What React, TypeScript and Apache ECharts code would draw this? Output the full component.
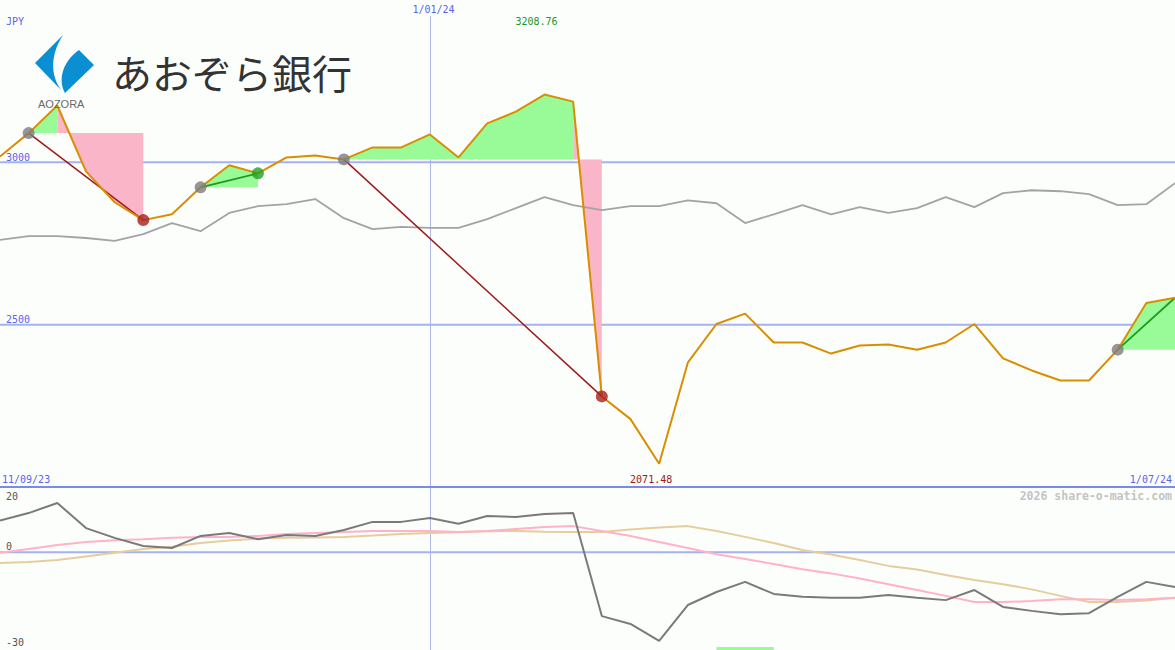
import React, { useEffect, useRef } from "react";
import * as echarts from "echarts";

// ---------- data ----------
const currency = "JPY";
const dates = [
  "18/09/23", "25/09/23", "2/10/23", "9/10/23", "16/10/23", "23/10/23", "30/10/23",
  "6/11/23", "13/11/23", "20/11/23", "27/11/23", "4/12/23", "11/12/23", "18/12/23",
  "25/12/23", "1/01/24", "8/01/24", "15/01/24", "22/01/24", "29/01/24", "5/02/24",
  "12/02/24", "19/02/24", "26/02/24", "4/03/24", "11/03/24", "18/03/24", "25/03/24",
  "1/04/24", "8/04/24", "15/04/24", "22/04/24", "29/04/24", "6/05/24", "13/05/24",
  "20/05/24", "27/05/24", "3/06/24", "10/06/24", "17/06/24", "24/06/24", "1/07/24",
];
const startLabel = "11/09/23";
const markedDate = "1/01/24";
const watermark = "2026 share-o-matic.com";
const bankName = "あおぞら銀行";
const bankLatin = "AOZORA";

const price = [
  3018, 3090, 3175, 2972, 2877, 2822, 2840, 2923, 2991, 2966,
  3015, 3021, 3009, 3046, 3046, 3086, 3015, 3120, 3156, 3208.76,
  3187, 2279, 2209, 2071.48, 2383, 2502, 2534, 2445, 2445, 2411,
  2436, 2439, 2423, 2445, 2502, 2396, 2359, 2328, 2328, 2423,
  2567, 2583,
];
const benchmark = [
  2761, 2773, 2773, 2767, 2758, 2779, 2813, 2788, 2844, 2865,
  2871, 2887, 2828, 2794, 2801, 2798, 2798, 2825, 2859, 2893,
  2868, 2853, 2865, 2865, 2883, 2874, 2813, 2840, 2868, 2840,
  2862, 2844, 2859, 2893, 2862, 2905, 2914, 2911, 2902, 2868,
  2871, 2936,
];
const momentum = [
  9.7, 12.0, 15.1, 7.4, 4.4, 1.9, 1.3, 5.0, 5.9, 4.0,
  5.3, 5.0, 6.8, 9.3, 9.3, 10.5, 8.7, 11.1, 10.8, 11.7,
  12.0, -19.6, -22.0, -27.2, -16.2, -12.2, -9.1, -12.8, -13.7, -14.0,
  -14.0, -13.1, -14.0, -14.7, -11.6, -16.8, -18.0, -19.0, -18.7, -13.7,
  -9.1, -10.7,
];
const momFast = [
  -0.2, 1.0, 2.2, 3.1, 3.7, 4.0, 4.4, 4.7, 4.7, 5.0,
  5.6, 5.9, 6.2, 6.5, 6.5, 6.5, 6.2, 6.5, 7.1, 7.7,
  8.0, 6.5, 5.0, 3.1, 1.3, -0.6, -2.1, -3.6, -5.2, -6.5,
  -8.1, -9.8, -11.6, -13.4, -15.3, -15.3, -15.0, -14.4, -14.4, -14.7,
  -14.4, -14.0,
];
const momSlow = [
  -3.3, -3.0, -2.4, -1.3, -0.2, 1.0, 1.7, 2.8, 3.6, 4.2,
  4.4, 4.5, 4.7, 5.1, 5.6, 5.9, 6.1, 6.4, 6.5, 6.3,
  6.2, 6.2, 7.0, 7.6, 8.0, 6.5, 4.7, 2.8, 0.7, -0.7,
  -2.4, -4.2, -5.3, -7.0, -8.5, -9.8, -11.4, -13.4, -15.3, -15.3,
  -14.8, -14.0,
];
const tradeEntries = [1, 7, 12, 39];
const tradeExits = [5, 9, 21, 41];
const tradeOpen = [false, false, false, true];
const priceLevels = [2500, 3000];
const priceRange = [2000, 3500];
const momLevels = [20, 0, -30];
const momGridLevels = [0];
const momRange = [-30, 20];
const bandIndices = [25, 27];
const bandValues = [-29.1, -30];

// ---------- styles ----------
const BG = "#fcfefc";
const GRID_BLUE = "#a4b2f2";
const SEP_BLUE = "#7b89e8";
const LABEL_BLUE = "#5566ee";
const ORANGE = "#d98e00";
const GREY_LINE = "#a3a3a3";
const GREEN_FILL = "#98fb98";
const PINK_FILL = "#fbb5c8";
const LOSS_LINE = "#9e1a1a";
const LOSS_DOT = "#a81e1e";
const GAIN_LINE = "#1e9a1e";
const GAIN_DOT = "#22a022";
const ENTRY_DOT = "#7c7c7c";
const MONO = "'DejaVu Sans Mono', monospace";

const LOGO_PATH =
  "M63 35 L35 63 L63 92 C52 80 48 58 63 35 Z M79 50 L94 65 L65 93 C58 80 62 62 79 50 Z";

function buildFills() {
  const fills: { pts: number[][]; color: string }[] = [];
  tradeEntries.forEach((e, t) => {
    const x = tradeExits[t];
    const ev = price[e];
    let k = e;
    for (let i = e; i <= x; i++) if (price[i] >= ev) k = i;
    const g: number[][] = [[e, ev]];
    for (let i = e + 1; i <= k; i++) g.push([i, price[i]]);
    g.push([k, ev]);
    fills.push({ pts: g, color: GREEN_FILL });
    if (k < x) {
      const p: number[][] = [];
      for (let i = k; i <= x; i++) p.push([i, price[i]]);
      p.push([x, ev]);
      p.push([k, ev]);
      fills.push({ pts: p, color: PINK_FILL });
    }
  });
  return fills;
}

export default function App() {
  const ref = useRef<HTMLDivElement>(null);

  useEffect(() => {
    document.body.style.margin = "0";
    echarts.graphic.registerShape("aozoraLogo", echarts.graphic.extendPath(LOGO_PATH, {}));
    const chart = echarts.init(ref.current!, null, { renderer: "svg" });

    const fills = buildFills();
    const bandPoly = [
      [bandIndices[0], bandValues[0]],
      [bandIndices[1], bandValues[0]],
      [bandIndices[1], bandValues[1]],
      [bandIndices[0], bandValues[1]],
    ];

    const tradeLineSeries = tradeEntries.map((e, t) => {
      const x = tradeExits[t];
      const gain = price[x] >= price[e];
      return {
        type: "line",
        xAxisIndex: 0,
        yAxisIndex: 0,
        z: 4,
        silent: true,
        showSymbol: false,
        symbol: "none",
        data: [
          [e, price[e]],
          [x, price[x]],
        ],
        lineStyle: { color: gain ? GAIN_LINE : LOSS_LINE, width: gain ? 1.8 : 1.5 },
      };
    });

    const dots: any[] = [];
    tradeEntries.forEach((e, t) => {
      dots.push({ value: [e, price[e]], itemStyle: { color: ENTRY_DOT } });
      if (!tradeOpen[t]) {
        const x = tradeExits[t];
        const gain = price[x] >= price[e];
        dots.push({ value: [x, price[x]], itemStyle: { color: gain ? GAIN_DOT : LOSS_DOT } });
      }
    });

    const option: any = {
      animation: false,
      backgroundColor: BG,
      grid: [
        { left: 0, right: 0, top: -2, height: 489 },
        { left: 0, right: 0, top: 487, height: 163 },
      ],
      xAxis: [
        { gridIndex: 0, type: "category", data: dates, boundaryGap: false, show: false },
        { gridIndex: 1, type: "category", data: dates, boundaryGap: false, show: false },
      ],
      yAxis: [
        {
          gridIndex: 0,
          type: "value",
          min: priceRange[0],
          max: priceRange[1],
          show: false,
          splitLine: { show: false },
        },
        {
          gridIndex: 1,
          type: "value",
          min: momRange[0],
          max: momRange[1],
          show: false,
          splitLine: { show: false },
        },
      ],
      series: [
        {
          type: "custom",
          xAxisIndex: 0,
          yAxisIndex: 0,
          z: 2,
          silent: true,
          data: fills.map((f) => f.pts[0]),
          encode: { x: 0, y: 1 },
          renderItem: (params: any, api: any) => {
            const f = fills[params.dataIndex];
            return {
              type: "polygon",
              shape: { points: f.pts.map((p) => api.coord(p)) },
              style: { fill: f.color, stroke: null },
            };
          },
        },
        {
          type: "custom",
          xAxisIndex: 1,
          yAxisIndex: 1,
          z: 2,
          silent: true,
          data: [bandPoly[0]],
          encode: { x: 0, y: 1 },
          renderItem: (params: any, api: any) => ({
            type: "polygon",
            shape: { points: bandPoly.map((p) => api.coord(p)) },
            style: { fill: GREEN_FILL, stroke: null },
          }),
        },
        {
          type: "line",
          xAxisIndex: 0,
          yAxisIndex: 0,
          z: 3,
          silent: true,
          symbol: "none",
          data: benchmark,
          lineStyle: { color: GREY_LINE, width: 1.8 },
        },
        ...tradeLineSeries,
        {
          type: "line",
          xAxisIndex: 0,
          yAxisIndex: 0,
          z: 5,
          silent: true,
          symbol: "none",
          data: price,
          lineStyle: { color: ORANGE, width: 2 },
        },
        {
          type: "scatter",
          xAxisIndex: 0,
          yAxisIndex: 0,
          z: 6,
          silent: true,
          symbol: "circle",
          symbolSize: 12,
          data: dots,
        },
        {
          type: "line",
          xAxisIndex: 1,
          yAxisIndex: 1,
          z: 3,
          silent: true,
          symbol: "none",
          data: momSlow,
          lineStyle: { color: "#e6cd9c", width: 2 },
        },
        {
          type: "line",
          xAxisIndex: 1,
          yAxisIndex: 1,
          z: 3,
          silent: true,
          symbol: "none",
          data: momFast,
          lineStyle: { color: "#ffb2c8", width: 2 },
        },
        {
          type: "line",
          xAxisIndex: 1,
          yAxisIndex: 1,
          z: 4,
          silent: true,
          symbol: "none",
          data: momentum,
          lineStyle: { color: "#7a7a7a", width: 2 },
        },
      ],
    };

    chart.setOption(option);

    const px0 = (x: number, y: number) => chart.convertToPixel({ gridIndex: 0 }, [x, y]) as number[];
    const px1 = (x: number, y: number) => chart.convertToPixel({ gridIndex: 1 }, [x, y]) as number[];
    const W = 1175;
    const H = 650;

    const txt = (
      text: string,
      x: number,
      y: number,
      color: string,
      align = "left",
      size = 10,
      weight = "normal",
      family = MONO
    ) => ({
      type: "text",
      x,
      y,
      z: 10,
      silent: true,
      style: {
        text,
        fill: color,
        fontSize: size,
        fontFamily: family,
        fontWeight: weight,
        align,
        verticalAlign: "middle",
        textAlign: align,
        textVerticalAlign: "middle",
      },
    });
    const hline = (y: number, color: string, z: number) => ({
      type: "line",
      z,
      silent: true,
      shape: { x1: 0, y1: y, x2: W, y2: y },
      style: { stroke: color, lineWidth: 2 },
    });

    const markIdx = dates.indexOf(markedDate);
    const markX = Math.round(px0(markIdx, priceRange[0])[0]) + 0.5;
    const sepY = px0(0, priceRange[0])[1];

    let maxIdx = 0;
    let minIdx = 0;
    price.forEach((v, i) => {
      if (v > price[maxIdx]) maxIdx = i;
      if (v < price[minIdx]) minIdx = i;
    });
    const maxX = px0(maxIdx, price[maxIdx])[0];
    const minX = px0(minIdx, price[minIdx])[0];

    const elements: any[] = [
      {
        type: "line",
        z: 1,
        silent: true,
        shape: { x1: markX, y1: 16, x2: markX, y2: H },
        style: { stroke: "#b0b8e6", lineWidth: 1 },
      },
      hline(sepY, SEP_BLUE, 7),
      {
        type: "aozoraLogo",
        x: 0,
        y: 0,
        z: 10,
        silent: true,
        style: { fill: "#0b8fd3" },
      },
      txt(bankLatin, 38, 104, "#6a6a6a", "left", 11, "normal", "'Liberation Sans', sans-serif"),
      txt(bankName, 112, 72, "#333333", "left", 40, "normal", "'Noto Sans CJK JP', sans-serif"),
      txt(currency, 6, 21, LABEL_BLUE),
      txt(markedDate, markX + 3, 9, LABEL_BLUE, "center"),
      txt(price[maxIdx].toFixed(2), maxX - 8, 21, "#1f941f", "center"),
      txt(price[minIdx].toFixed(2), minX - 8, 479, "#a01818", "center"),
      txt(startLabel, 2, 479, LABEL_BLUE),
      txt(dates[dates.length - 1], W - 3, 479, LABEL_BLUE, "right"),
      txt(watermark, W - 3, 496, "#c4c4c4", "right", 11.5, "bold"),
    ];
    priceLevels.forEach((lv) => {
      const y = px0(0, lv)[1];
      elements.push(hline(y, GRID_BLUE, 1));
      elements.push(txt(String(lv), 6, y - 5, LABEL_BLUE));
    });
    momGridLevels.forEach((lv) => {
      elements.push(hline(px1(0, lv)[1], GRID_BLUE, 1));
    });
    momLevels.forEach((lv) => {
      const y = px1(0, lv)[1];
      let ly = y - 6;
      if (lv === momRange[1]) ly = y + 9;
      else if (lv === momRange[0]) ly = y - 8;
      elements.push(txt(String(lv), 6, ly, "#555555"));
    });

    chart.setOption({ graphic: { elements } });

    return () => chart.dispose();
  }, []);

  return <div ref={ref} style={{ width: 1175, height: 650 }} />;
}
